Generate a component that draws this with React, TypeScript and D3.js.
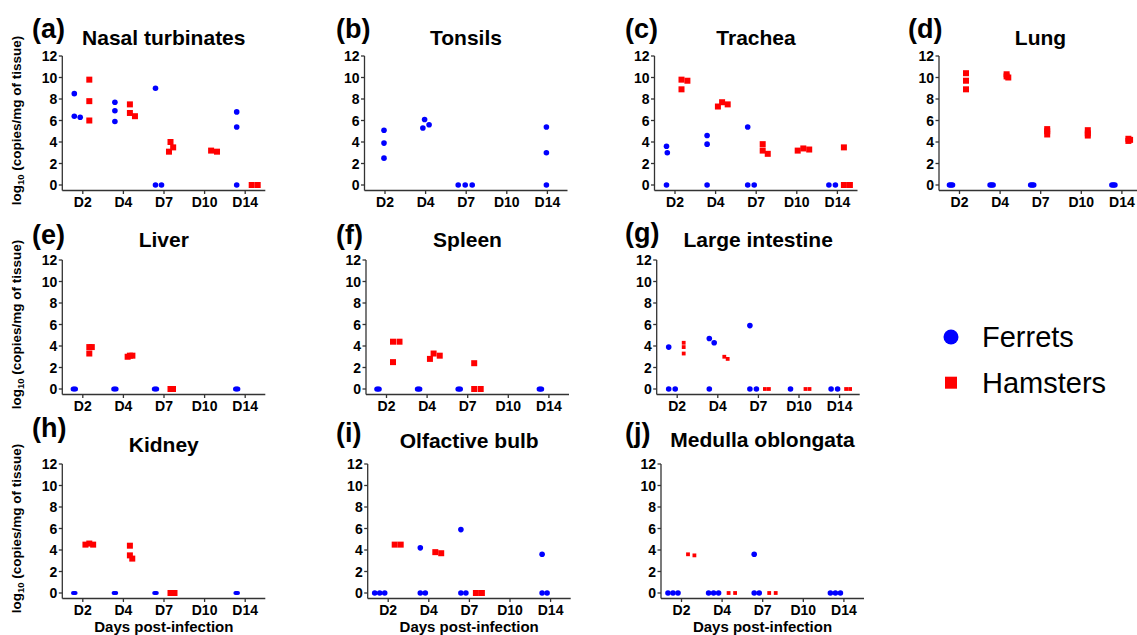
import React from "react";
import * as d3 from "d3";

// ---------- data ----------
const days = ["D2", "D4", "D7", "D10", "D14"];
const yTicks = [0, 2, 4, 6, 8, 10, 12];

const nasalFerrets = [[8.5, 6.3, 6.4], [7.7, 6.9, 5.9], [9.0, 0, 0], [], [6.8, 5.4, 0]];
const nasalHamsters = [[9.8, 7.8, 6.0], [7.5, 6.7, 6.4], [4.0, 3.5, 3.1], [3.2, 3.1], [0, 0]];

const tonsilFerrets = [[5.1, 3.9, 2.5], [6.1, 5.6, 5.3], [0, 0, 0], [], [5.4, 3.0, 0]];
const tonsilHamsters = [[], [], [], [], []];

const tracheaFerrets = [[3.6, 3.0, 0], [4.6, 3.8, 0], [5.4, 0, 0], [], [0, 0]];
const tracheaHamsters = [[9.8, 9.7, 8.9], [7.7, 7.5, 7.3], [3.8, 3.2, 2.9], [3.4, 3.3, 3.2], [3.5, 0, 0]];

const lungFerrets = [[0, 0, 0], [0, 0, 0], [0, 0, 0], [], [0, 0, 0]];
const lungHamsters = [[10.4, 9.7, 8.9], [10.3, 10.1, 10.0], [5.2, 5.0, 4.7], [5.1, 4.8, 4.6], [4.3, 4.2, 4.1]];

const liverFerrets = [[0, 0, 0], [0, 0, 0], [0, 0, 0], [], [0, 0, 0]];
const liverHamsters = [[3.9, 3.9, 3.3], [3.1, 3.1, 3.0], [0, 0], [], []];

const spleenFerrets = [[0, 0, 0], [0, 0, 0], [0, 0, 0], [], [0, 0, 0]];
const spleenHamsters = [[4.4, 4.4, 2.5], [3.3, 3.1, 2.8], [2.4, 0, 0], [], []];

const intestineFerrets = [[3.9, 0, 0], [4.7, 4.3, 0], [5.9, 0, 0], [0], [0, 0]];
const intestineHamsters = [[4.3, 3.9, 3.3], [3.0, 2.8], [0, 0], [0, 0], [0, 0]];

const kidneyFerrets = [[0, 0, 0], [0, 0, 0], [0, 0, 0], [], [0, 0, 0]];
const kidneyHamsters = [[4.6, 4.5, 4.5], [4.4, 3.5, 3.2], [0, 0], [], []];

const bulbFerrets = [[0, 0, 0], [4.2, 0, 0], [5.9, 0, 0], [], [3.6, 0, 0]];
const bulbHamsters = [[4.5, 4.5], [3.8, 3.7], [0, 0], [], []];

const medullaFerrets = [[0, 0, 0], [0, 0, 0], [3.6, 0, 0], [], [0, 0, 0]];
const medullaHamsters = [[3.6, 3.5], [0, 0], [0, 0], [], []];

const panelLetters = ["(a)", "(b)", "(c)", "(d)", "(e)", "(f)", "(g)", "(h)", "(i)", "(j)"];
const panelTitles = [
  "Nasal turbinates", "Tonsils", "Trachea", "Lung", "Liver", "Spleen",
  "Large intestine", "Kidney", "Olfactive bulb", "Medulla oblongata",
];
const ferretSeries = [
  nasalFerrets, tonsilFerrets, tracheaFerrets, lungFerrets, liverFerrets,
  spleenFerrets, intestineFerrets, kidneyFerrets, bulbFerrets, medullaFerrets,
];
const hamsterSeries = [
  nasalHamsters, tonsilHamsters, tracheaHamsters, lungHamsters, liverHamsters,
  spleenHamsters, intestineHamsters, kidneyHamsters, bulbHamsters, medullaHamsters,
];
const legendLabels = ["Ferrets", "Hamsters"];
const yAxisTitle = ["log", "10", " (copies/mg of tissue)"];
const xAxisTitle = "Days post-infection";

// ---------- layout / style ----------
const FONT = "'Liberation Sans', Arial, Helvetica, sans-serif";
const BLUE = "#0000ff";
const RED = "#ff0000";
const AXIS = "#333333";
const rowY0 = [185, 389, 593];
const PLOT_H = 129;
const BAND = 40.6;
const AXIS_LEN = 203;

const layout = [
  { x0: 62.3, row: 0, dF: 6, dH: 6, r: 2.8, sq: 6, lx: 32, ly: 38, ty: 45 },
  { x0: 364.5, row: 0, dF: 7, dH: 6, r: 2.8, sq: 6, lx: 336, ly: 38, ty: 45 },
  { x0: 654.5, row: 0, dF: 6.5, dH: 6, r: 2.8, sq: 6, lx: 625, ly: 38, ty: 45 },
  { x0: 939, row: 0, dF: 1.5, dH: 2, r: 2.8, sq: 6, lx: 908, ly: 38, ty: 45 },
  { x0: 62.3, row: 1, dF: 1.2, dH: 2.5, r: 2.5, sq: 6, lx: 32, ly: 244, ty: 247 },
  { x0: 366, row: 1, dF: 1.2, dH: 6.5, r: 2.6, sq: 6, lx: 336, ly: 244, ty: 247 },
  { x0: 656.7, row: 1, dF: 6.5, dH: 4, r: 2.8, sq: 3.8, lx: 625, ly: 242, ty: 247 },
  { x0: 62.3, row: 2, dF: 1.2, dH: 4, r: 2.1, sq: 6, lx: 32, ly: 437, ty: 452 },
  { x0: 367.7, row: 2, dF: 5, dH: 6, r: 2.8, sq: 6, lx: 336, ly: 442, ty: 448 },
  { x0: 661, row: 2, dF: 5, dH: 6.5, r: 2.8, sq: 3.8, lx: 625, ly: 442, ty: 447 },
];

type Pt = { x: number; y: number; v: number };

// simple beeswarm placement around a centre
function swarm(values: number[], cx: number, y: (v: number) => number, d: number): Pt[] {
  const sorted = values.slice().sort((a, b) => b - a);
  const placed: Pt[] = [];
  for (const v of sorted) {
    const py = y(v);
    const near = placed.filter((p) => Math.abs(p.y - py) < d);
    const cands = [0];
    for (const p of near) {
      const dx = Math.sqrt(Math.max(0, d * d - (p.y - py) ** 2));
      cands.push(p.x - cx + dx + 1e-6, p.x - cx - dx - 1e-6);
    }
    const ok = cands
      .filter((c) => near.every((p) => Math.hypot(p.x - (cx + c), p.y - py) >= d - 1e-3))
      .sort((a, b) => Math.abs(a) - Math.abs(b) || b - a);
    placed.push({ x: cx + (ok.length ? ok[0] : 0), y: py, v });
  }
  return placed;
}

function Panel({ idx }: { idx: number }) {
  const L = layout[idx];
  const y0 = rowY0[L.row];
  const x = d3
    .scalePoint<string>()
    .domain(days)
    .range([L.x0 + 20.5, L.x0 + 20.5 + BAND * (days.length - 1)]);
  const y = d3.scaleLinear().domain([0, 12]).range([y0, y0 - PLOT_H]);
  const axisY = y0 + 5.5;
  const ferrets = ferretSeries[idx];
  const hamsters = hamsterSeries[idx];
  const hasH = hamsters.some((g) => g.length > 0);
  const fOff = hasH ? -8.5 : -1;
  const hOff = 6.5;
  const cxMid = L.x0 + AXIS_LEN / 2;

  return (
    <g>
      <text x={L.lx} y={L.ly} fontSize={27} fontWeight="bold" fill="#000">
        {panelLetters[idx]}
      </text>
      <text x={cxMid} y={L.ty} fontSize={21} fontWeight="bold" textAnchor="middle" fill="#000">
        {panelTitles[idx]}
      </text>
      {/* y axis */}
      <line x1={L.x0} x2={L.x0} y1={y(12)} y2={axisY} stroke={AXIS} strokeWidth={1.3} />
      {yTicks.map((t) => (
        <g key={t}>
          <line x1={L.x0 - 3.5} x2={L.x0} y1={y(t)} y2={y(t)} stroke={AXIS} strokeWidth={1.3} />
          <text
            x={L.x0 - 5}
            y={y(t)}
            dy="0.36em"
            fontSize={14}
            fontWeight="bold"
            textAnchor="end"
            fill="#000"
          >
            {t}
          </text>
        </g>
      ))}
      {/* x axis */}
      <line x1={L.x0} x2={L.x0 + AXIS_LEN} y1={axisY} y2={axisY} stroke={AXIS} strokeWidth={1.3} />
      {days.map((dd) => (
        <g key={dd}>
          <line x1={x(dd)} x2={x(dd)} y1={axisY} y2={axisY + 3.5} stroke={AXIS} strokeWidth={1.3} />
          <text
            x={x(dd)}
            y={axisY + 16.5}
            fontSize={14}
            fontWeight="bold"
            textAnchor="middle"
            fill="#000"
          >
            {dd}
          </text>
        </g>
      ))}
      {L.row === 2 && (
        <text x={cxMid} y={632} fontSize={15} fontWeight="bold" textAnchor="middle" fill="#000">
          {xAxisTitle}
        </text>
      )}
      {L.x0 < 100 && (
        <text
          transform={`translate(20.5,${y0 - PLOT_H / 2}) rotate(-90)`}
          fontSize={13.5}
          fontWeight="bold"
          textAnchor="middle"
          fill="#000"
        >
          {yAxisTitle[0]}
          <tspan fontSize={9.5} dy={3}>
            {yAxisTitle[1]}
          </tspan>
          <tspan dy={-3}>{yAxisTitle[2]}</tspan>
        </text>
      )}
      {/* ferrets */}
      {ferrets.map((vals, i) =>
        swarm(vals, (x(days[i]) as number) + fOff, y, L.dF).map((p, k) => (
          <circle key={`f${i}-${k}`} cx={p.x} cy={p.y} r={L.r} fill={BLUE} />
        ))
      )}
      {/* hamsters */}
      {hamsters.map((vals, i) =>
        swarm(vals, (x(days[i]) as number) + hOff, y, L.dH).map((p, k) => (
          <rect
            key={`h${i}-${k}`}
            x={p.x - L.sq / 2}
            y={p.y - L.sq / 2}
            width={L.sq}
            height={L.sq}
            fill={RED}
          />
        ))
      )}
    </g>
  );
}

export default function App() {
  return (
    <svg
      width={1137}
      height={635}
      style={{ position: "absolute", left: 0, top: 0, display: "block" }}
      fontFamily={FONT}
    >
      <rect width={1137} height={635} fill="#fff" />
      {panelTitles.map((_, i) => (
        <Panel key={i} idx={i} />
      ))}
      {/* legend */}
      <circle cx={951} cy={337} r={7.5} fill={BLUE} />
      <text x={982} y={347} fontSize={29} fill="#000">
        {legendLabels[0]}
      </text>
      <rect x={945} y={376.7} width={12} height={12} fill={RED} />
      <text x={982} y={392.7} fontSize={29} fill="#000">
        {legendLabels[1]}
      </text>
    </svg>
  );
}
